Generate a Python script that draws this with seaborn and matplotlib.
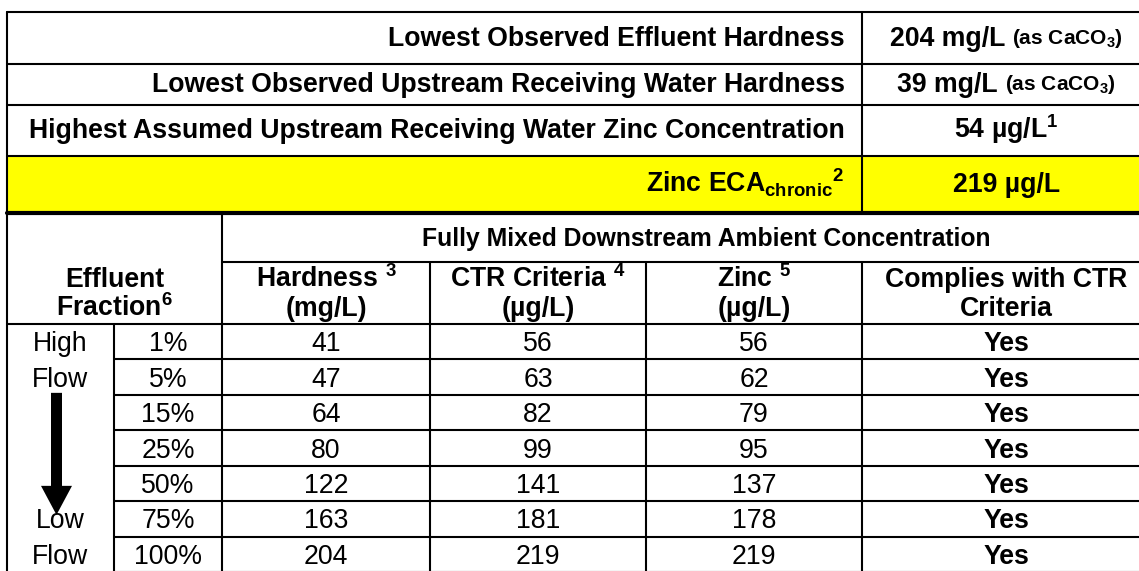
import matplotlib
matplotlib.use("Agg")
import matplotlib.pyplot as plt
from matplotlib.patches import Rectangle, FancyArrow
import seaborn as sns

# ---------------------------------------------------------------------------
# Data
# ---------------------------------------------------------------------------
summary_labels = [
    "Lowest Observed Effluent Hardness",
    "Lowest Observed Upstream Receiving Water Hardness",
    "Highest Assumed Upstream Receiving Water Zinc Concentration",
    r"Zinc ECA$_{\mathbf{chronic}}$$^{\mathbf{2}}$",
]
summary_values = ["204 mg/L", "39 mg/L", r"54 µg/L$^{\mathbf{1}}$", "219 µg/L"]
summary_notes = [r"(as CaCO$_{\mathbf{3}}$)", r"(as CaCO$_{\mathbf{3}}$)", "", ""]

group_header = "Fully Mixed Downstream Ambient Concentration"
col_headers = [
    "Effluent\nFraction$^{\\mathbf{6}}$",
    "Hardness $^{\\mathbf{3}}$\n(mg/L)",
    "CTR Criteria $^{\\mathbf{4}}$\n(µg/L)",
    "Zinc $^{\\mathbf{5}}$\n(µg/L)",
    "Complies with CTR\nCriteria",
]
flow_labels = ["High", "Flow", "Low", "Flow"]
fractions = ["1%", "5%", "15%", "25%", "50%", "75%", "100%"]
hardness = [41, 47, 64, 80, 122, 163, 204]
ctr_criteria = [56, 63, 82, 99, 141, 181, 219]
zinc = [56, 62, 79, 95, 137, 178, 219]
complies = ["Yes", "Yes", "Yes", "Yes", "Yes", "Yes", "Yes"]

# ---------------------------------------------------------------------------
# Layout (pixels) - right and bottom borders fall just outside the picture
# ---------------------------------------------------------------------------
W, H = 1139, 571
x_left, x_c1, x_c2, x_c3, x_c4, x_c5, x_right = 7, 114, 222, 430, 646, 862, 1151
upper_rows = [12, 64, 105, 156, 213]
y_group = 262
y_head = 324
row_h = (572 - y_head) / len(fractions)

sns.set_theme(style="white")
plt.rcParams["font.family"] = ["Liberation Sans", "DejaVu Sans"]
plt.rcParams["mathtext.fontset"] = "custom"
plt.rcParams["mathtext.rm"] = "Liberation Sans"
plt.rcParams["mathtext.bf"] = "Liberation Sans:bold"
plt.rcParams["mathtext.it"] = "Liberation Sans:italic"

FS = 19.15
LW = 1.5
BLACK = "black"

fig = plt.figure(figsize=(W / 100, H / 100), dpi=100)
ax = fig.add_axes([0, 0, 1, 1])
ax.set_xlim(0, W)
ax.set_ylim(H, 0)
ax.axis("off")

# yellow row
ax.add_patch(Rectangle((x_left, upper_rows[3]), x_right - x_left,
                       upper_rows[4] - upper_rows[3], color="#FFFF00", zorder=0))

# grid lines
for y in upper_rows[:4]:
    ax.plot([x_left, x_right], [y, y], color=BLACK, lw=LW)
ax.plot([x_left, x_right], [upper_rows[4], upper_rows[4]], color=BLACK, lw=3)
ax.plot([x_c2, x_right], [y_group, y_group], color=BLACK, lw=LW)
ax.plot([x_left, x_right], [y_head, y_head], color=BLACK, lw=LW)
for k in range(1, len(fractions) + 1):
    y = y_head + k * row_h
    ax.plot([x_c1, x_right], [y, y], color=BLACK, lw=LW)
ax.plot([x_left, x_left], [upper_rows[0], H + 5], color=BLACK, lw=LW)
ax.plot([x_c5, x_c5], [upper_rows[0], upper_rows[4]], color=BLACK, lw=LW)
ax.plot([x_c5, x_c5], [y_group, H + 5], color=BLACK, lw=LW)
ax.plot([x_c2, x_c2], [upper_rows[4], H + 5], color=BLACK, lw=LW)
ax.plot([x_c1, x_c1], [y_head, H + 5], color=BLACK, lw=LW)
for x in [x_c3, x_c4]:
    ax.plot([x, x], [y_group, H + 5], color=BLACK, lw=LW)

CAP = 0.36 * FS / 0.72  # half cap height in px


def put(x, yc, s, ha="center", weight="bold", size=FS):
    return ax.text(x, yc + CAP * size / FS, s, ha=ha, va="baseline",
                   fontsize=size, fontweight=weight, color=BLACK)


# upper summary block
fig.canvas.draw()
renderer = fig.canvas.get_renderer()
val_center = (x_c5 + x_right) / 2
for i, (lab, val, note) in enumerate(zip(summary_labels, summary_values, summary_notes)):
    yc = (upper_rows[i] + upper_rows[i + 1]) / 2 - 2
    put(x_c5 - 17, yc, lab, ha="right")
    t_val = put(val_center, yc, val, ha="left")
    w_val = t_val.get_window_extent(renderer).width
    w_note = 0
    gap = 0
    if note:
        t_note = put(val_center, yc, note, ha="left", size=15)
        w_note = t_note.get_window_extent(renderer).width
        gap = 7
    x0 = val_center - (w_val + gap + w_note) / 2
    t_val.set_x(x0)
    if note:
        t_note.set_x(x0 + w_val + gap)

# headers
put(706, (upper_rows[4] + y_group) / 2, group_header, size=17.8)
head_centers = [(x_left + x_c2) / 2, (x_c2 + x_c3) / 2, (x_c3 + x_c4) / 2,
                (x_c4 + x_c5) / 2, (x_c5 + x_right) / 2]
for xc, h in zip(head_centers, col_headers):
    line1, line2 = h.split("\n")
    put(xc, 277, line1)
    put(xc, 306, line2)

# data rows
col_vals = [fractions, hardness, ctr_criteria, zinc, complies]
col_centers = [(x_c1 + x_c2) / 2, (x_c2 + x_c3) / 2, (x_c3 + x_c4) / 2,
               (x_c4 + x_c5) / 2, (x_c5 + x_right) / 2]
for j, (xc, vals) in enumerate(zip(col_centers, col_vals)):
    for i, v in enumerate(vals):
        yc = y_head + (i + 0.5) * row_h
        put(xc, yc, str(v), weight="bold" if j == 4 else "normal")

# flow column
flow_rows = [0, 1, 5, 6]
for lab, r in zip(flow_labels, flow_rows):
    put((x_left + x_c1) / 2, y_head + (r + 0.5) * row_h, lab, weight="normal")
ax.add_patch(FancyArrow(56.5, y_head + 2 * row_h - 2, 0, 122, width=11,
                        head_width=31, head_length=29, length_includes_head=True,
                        color=BLACK, lw=0))

fig.savefig("out.png", dpi=100)
